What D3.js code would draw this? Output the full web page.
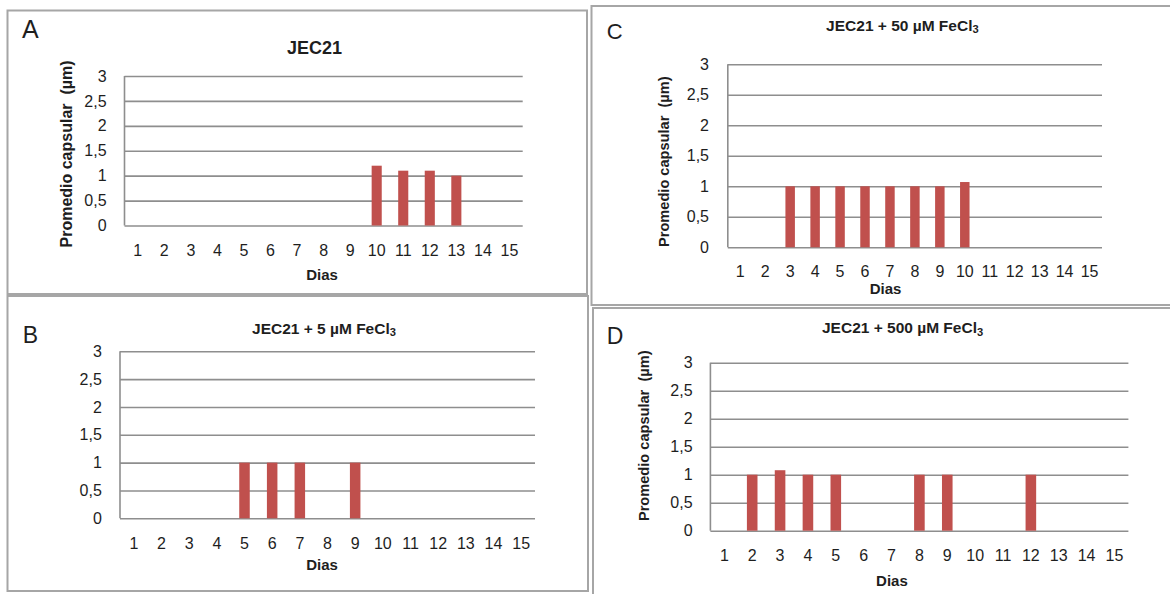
<!DOCTYPE html>
<html>
<head>
<meta charset="utf-8">
<script src="https://cdn.jsdelivr.net/npm/d3@7"></script>
<style>
  body { margin: 0; background: #fff; }
  svg { display: block; }
  text { font-family: "Liberation Sans", Arial, sans-serif; fill: #1e1e1e; }
</style>
</head>
<body>
<div id="chart"></div>
<script>
// data
const days = ["1", "2", "3", "4", "5", "6", "7", "8", "9", "10", "11", "12", "13", "14", "15"];
const yTicks = [0, 0.5, 1, 1.5, 2, 2.5, 3];

const jec21 = [0, 0, 0, 0, 0, 0, 0, 0, 0, 1.2, 1.1, 1.1, 1.0, 0, 0];
const fe5 = [0, 0, 0, 0, 1, 1, 1, 0, 1, 0, 0, 0, 0, 0, 0];
const fe50 = [0, 0, 1, 1, 1, 1, 1, 1, 1, 1.07, 0, 0, 0, 0, 0];
const fe500 = [0, 1, 1.08, 1, 1, 0, 0, 1, 1, 0, 0, 1, 0, 0, 0];

const panelLetters = ["A", "B", "C", "D"];
const panelTitles = ["JEC21", "JEC21 + 5 µM FeCl", "JEC21 + 50 µM FeCl", "JEC21 + 500 µM FeCl"];
const yTitle = "Promedio capsular  (µm)";
const xTitle = "Dias";

// layout of the four boxes (measured on the picture)
const panels = [
  { values: jec21, frame: [7.5, 10.5, 587, 294], plot: [124.5, 522.7, 76, 225.5],
    letter: [22, 38, 25], title: [314.5, 54, 18], sub: false, yt: [66, 154, 16],
    yLab: 106.6, xLab: 250.7, dias: [322, 275] },
  { values: fe5, frame: [7.5, 296, 588, 591], plot: [120, 535, 351.3, 518.3],
    letter: [22.8, 343.3, 23], title: [324, 334, 15.5], sub: true, yt: null,
    yLab: 101.8, xLab: 543.3, dias: [322, 565] },
  { values: fe50, frame: [591.5, 6, 1190, 305], plot: [727.8, 1102, 64.3, 247.3],
    letter: [606.7, 39.3, 22], title: [902.4, 30.7, 15.5], sub: true, yt: [664, 161.7, 14.6],
    yLab: 709, xLab: 271.5, dias: [885.6, 289] },
  { values: fe500, frame: [593, 308, 1190, 610], plot: [710.4, 1128.4, 362.7, 530.7],
    letter: [606.7, 344.3, 23], title: [902.6, 333.3, 15.5], sub: true, yt: [643.7, 435.8, 14.6],
    yLab: 692.6, xLab: 555.7, dias: [891.9, 581] }
];

const barColor = "#c0504d";
const gridColor = "#8e8e8e";
const frameColor = "#a6a6a6";

const svg = d3.select("#chart").append("svg")
  .attr("width", 1170)
  .attr("height", 594);

svg.append("rect").attr("width", 1170).attr("height", 594).attr("fill", "#fff");

const fmt = v => String(v).replace(".", ",");

panels.forEach((p, i) => {
  const g = svg.append("g");
  const [left, right, top, bottom] = p.plot;

  // box round each chart
  g.append("rect")
    .attr("x", p.frame[0]).attr("y", p.frame[1])
    .attr("width", p.frame[2] - p.frame[0]).attr("height", p.frame[3] - p.frame[1])
    .attr("fill", "none").attr("stroke", frameColor).attr("stroke-width", 2);

  const x = d3.scaleBand().domain(days).range([left, right])
    .paddingInner(0.62).paddingOuter(0.31);
  const y = d3.scaleLinear().domain([0, 3]).range([bottom, top]);

  // y axis: gridlines + labels
  const ya = g.append("g")
    .attr("transform", `translate(${left},0)`)
    .call(d3.axisLeft(y).tickValues(yTicks).tickFormat(fmt)
      .tickSize(-(right - left)).tickPadding(left - p.yLab));
  ya.select(".domain").remove();
  ya.selectAll("line").attr("stroke", gridColor).attr("stroke-width", 1.6);
  ya.selectAll("text").attr("font-size", 16).attr("fill", "#1e1e1e")
    .attr("font-family", "Liberation Sans, Arial, sans-serif");

  // left edge of the plot area
  g.append("line")
    .attr("x1", left).attr("x2", left).attr("y1", y(3)).attr("y2", y(0))
    .attr("stroke", gridColor).attr("stroke-width", 1.6);

  // bars
  g.append("g").selectAll("rect")
    .data(days.map((d, j) => ({ day: d, v: p.values[j] })).filter(d => d.v > 0))
    .join("rect")
    .attr("x", d => x(d.day))
    .attr("width", x.bandwidth())
    .attr("y", d => y(d.v))
    .attr("height", d => y(0) - y(d.v))
    .attr("fill", barColor);

  // x axis labels
  const xa = g.append("g")
    .attr("transform", `translate(0,${bottom})`)
    .call(d3.axisBottom(x).tickSize(0));
  xa.select(".domain").remove();
  xa.selectAll("text")
    .attr("y", p.xLab - bottom).attr("dy", "0.35em")
    .attr("font-size", 16).attr("fill", "#1e1e1e")
    .attr("font-family", "Liberation Sans, Arial, sans-serif");

  // panel letter
  g.append("text")
    .attr("x", p.letter[0]).attr("y", p.letter[1])
    .attr("font-size", p.letter[2])
    .text(panelLetters[i]);

  // title
  const t = g.append("text")
    .attr("x", p.title[0]).attr("y", p.title[1])
    .attr("text-anchor", "middle")
    .attr("font-size", p.title[2])
    .attr("font-weight", "bold")
    .text(panelTitles[i]);
  if (p.sub) {
    t.append("tspan").attr("font-size", p.title[2] * 0.72).attr("dy", "0.22em").text("3");
  }

  // y title
  if (p.yt) {
    g.append("text")
      .attr("transform", `translate(${p.yt[0]},${p.yt[1]}) rotate(-90)`)
      .attr("text-anchor", "middle")
      .attr("dy", "0.35em")
      .attr("font-size", p.yt[2])
      .attr("font-weight", "bold")
      .style("white-space", "pre")
      .text(yTitle);
  }

  // x title
  g.append("text")
    .attr("x", p.dias[0]).attr("y", p.dias[1])
    .attr("dy", "0.35em")
    .attr("text-anchor", "middle")
    .attr("font-size", 15)
    .attr("font-weight", "bold")
    .text(xTitle);
});
</script>
</body>
</html>
